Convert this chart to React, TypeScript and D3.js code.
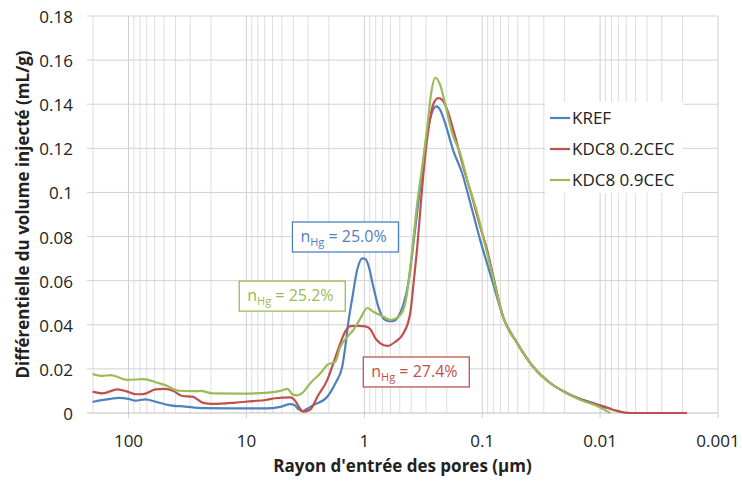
import React from "react";
import * as d3 from "d3";

// Pore entry radius (µm) and differential intruded volume (mL/g)
const krefR = [202, 173, 142, 122, 100, 87, 72, 59, 45.8, 32.9, 23.6, 13.7, 6.9, 5.15, 4.24, 3.92, 3.63, 3.35, 3.1, 2.7, 2.06, 1.76, 1.54, 1.45, 1.37, 1.26, 1.15, 1.04, 0.98, 0.925, 0.839, 0.761, 0.69, 0.626, 0.568, 0.515, 0.467, 0.424, 0.408, 0.377, 0.349, 0.322, 0.292, 0.265, 0.245, 0.227, 0.206, 0.176, 0.148, 0.126, 0.104, 0.0822, 0.0664, 0.0505, 0.037, 0.0265, 0.019, 0.0148, 0.011, 0.0087, 0.0082];
const krefV = [0.005, 0.0057, 0.0064, 0.0069, 0.0064, 0.0056, 0.0062, 0.0051, 0.0036, 0.0029, 0.0022, 0.0021, 0.0021, 0.0028, 0.004, 0.0036, 0.0018, 0.0008, 0.0017, 0.0036, 0.0074, 0.0135, 0.021, 0.03, 0.0407, 0.0527, 0.0648, 0.0701, 0.0698, 0.0671, 0.0573, 0.0482, 0.0429, 0.0417, 0.0417, 0.0437, 0.049, 0.0588, 0.0648, 0.08, 0.095, 0.11, 0.127, 0.1366, 0.139, 0.1374, 0.1313, 0.119, 0.1087, 0.0951, 0.0784, 0.06, 0.0435, 0.0317, 0.021, 0.0136, 0.009, 0.0064, 0.0042, 0.0023, 0.002];

const kdc02R = [202, 166, 124, 102, 87, 74.6, 59, 49, 41.6, 34.9, 28.7, 23.6, 19.4, 12.4, 8.9, 6.9, 5.68, 4.24, 3.85, 3.56, 3.29, 2.87, 2.5, 2.06, 1.83, 1.6, 1.45, 1.31, 1.124, 0.98, 0.889, 0.807, 0.732, 0.638, 0.546, 0.467, 0.408, 0.377, 0.356, 0.335, 0.316, 0.287, 0.26, 0.236, 0.218, 0.198, 0.173, 0.145, 0.122, 0.104, 0.0908, 0.0822, 0.0664, 0.0505, 0.037, 0.0265, 0.019, 0.0148, 0.011, 0.00908, 0.00746, 0.00614, 0.00557, 0.00183];
const kdc02V = [0.0097, 0.0089, 0.0107, 0.0097, 0.0085, 0.0086, 0.0107, 0.0109, 0.01, 0.0077, 0.0074, 0.0047, 0.0041, 0.0047, 0.0054, 0.0059, 0.0067, 0.0071, 0.0055, 0.0025, 0.0006, 0.0016, 0.0074, 0.015, 0.0225, 0.0316, 0.037, 0.0394, 0.0395, 0.0393, 0.038, 0.034, 0.0316, 0.0304, 0.0323, 0.036, 0.0452, 0.062, 0.075, 0.092, 0.108, 0.128, 0.14, 0.1428, 0.142, 0.1374, 0.127, 0.1117, 0.098, 0.0845, 0.0739, 0.064, 0.0435, 0.0317, 0.021, 0.0136, 0.0088, 0.0062, 0.004, 0.0028, 0.0012, 0.0002, 0, 0];

const kdc09R = [202, 166, 142, 102, 74.6, 56.8, 49, 37.7, 27, 24.5, 19.4, 11.2, 6.9, 5.15, 4.5, 4.0, 3.7, 3.29, 2.87, 2.36, 2.06, 1.76, 1.6, 1.39, 1.24, 1.08, 0.944, 0.839, 0.69, 0.602, 0.495, 0.441, 0.416, 0.385, 0.356, 0.322, 0.292, 0.271, 0.25, 0.227, 0.206, 0.18, 0.1536, 0.1315, 0.11, 0.0908, 0.0822, 0.0664, 0.0505, 0.037, 0.0265, 0.019, 0.0148, 0.011, 0.00944, 0.0082];
const kdc09V = [0.0177, 0.0168, 0.0172, 0.015, 0.0154, 0.0137, 0.0127, 0.0101, 0.0099, 0.01, 0.0089, 0.0088, 0.0091, 0.01, 0.0109, 0.0082, 0.008, 0.0095, 0.0135, 0.018, 0.0218, 0.0233, 0.03, 0.0346, 0.0376, 0.0429, 0.0476, 0.0459, 0.0437, 0.0422, 0.0444, 0.052, 0.062, 0.078, 0.095, 0.112, 0.13, 0.145, 0.152, 0.1487, 0.14, 0.127, 0.1177, 0.1041, 0.0905, 0.0724, 0.063, 0.0435, 0.0317, 0.021, 0.0136, 0.0088, 0.006, 0.0035, 0.0018, 0];

const seriesNames = ["KREF", "KDC8 0.2CEC", "KDC8 0.9CEC"];
const seriesColors = ["#4f81bd", "#c0504d", "#9bbb59"];
const seriesR = [krefR, kdc02R, kdc09R];
const seriesV = [krefV, kdc02V, kdc09V];

const yTicks = [0, 0.02, 0.04, 0.06, 0.08, 0.1, 0.12, 0.14, 0.16, 0.18];
const yTickLabels = ["0", "0.02", "0.04", "0.06", "0.08", "0.1", "0.12", "0.14", "0.16", "0.18"];
const xMajor = [100, 10, 1, 0.1, 0.01, 0.001];
const xMajorLabels = ["100", "10", "1", "0.1", "0.01", "0.001"];

const annotations = [
  { label: "25.0%", color: "#4f81bd", r: 4.07, v: 0.0866 },
  { label: "25.2%", color: "#9bbb59", r: 11.5, v: 0.0598 },
  { label: "27.4%", color: "#c0504d", r: 1.02, v: 0.0254 },
];

const FONT = "'Open Sans', 'Liberation Sans', sans-serif";

export default function App() {
  const x = d3.scaleLog().domain([225, 0.001]).range([87, 718]);
  const y = d3.scaleLinear().domain([0, 0.18]).range([413, 16]);
  const [x0, x1] = x.range();

  const minor: number[] = [];
  [100, 10, 1, 0.1, 0.01, 0.001].forEach((d) => {
    for (let k = 2; k <= 9; k++) {
      const val = d * k;
      if (val <= 225 && val > 0.001 && !xMajor.includes(val)) minor.push(val);
    }
  });

  const line = d3
    .line<[number, number]>()
    .x((d) => x(d[0]))
    .y((d) => y(d[1]))
    .curve(d3.curveMonotoneX);

  return (
    <svg
      width={742}
      height={483}
      style={{ position: "absolute", left: 0, top: 0, background: "#fff" }}
      fontFamily={FONT}
    >
      <rect width={742} height={483} fill="#fff" />
      {minor.map((m, i) => (
        <line key={"mn" + i} x1={x(m)} x2={x(m)} y1={y(0.18)} y2={y(0)} stroke="#dedede" strokeWidth={1} />
      ))}
      {xMajor.map((m, i) => (
        <line key={"mj" + i} x1={x(m)} x2={x(m)} y1={y(0.18)} y2={y(0) + 5} stroke="#cfcfcf" strokeWidth={1} />
      ))}
      {yTicks.map((t, i) => (
        <line key={"h" + i} x1={x0} x2={x1} y1={y(t)} y2={y(t)} stroke={t === 0 ? "#bfbfbf" : "#d3d3d3"} strokeWidth={1} />
      ))}
      {yTicks.map((t, i) => (
        <text key={"yl" + i} x={73} y={y(t) + 7} textAnchor="end" fontSize={17} fill="#222">
          {yTickLabels[i]}
        </text>
      ))}
      {xMajor.map((m, i) => (
        <text key={"xl" + i} x={x(m)} y={447} textAnchor="middle" fontSize={17} fill="#222">
          {xMajorLabels[i]}
        </text>
      ))}
      {seriesNames.map((name, si) => {
        const pts: [number, number][] = seriesR[si].map((r, j) => [r, seriesV[si][j]]);
        return (
          <path key={name} d={line(pts) || ""} fill="none" stroke={seriesColors[si]} strokeWidth={2.2} strokeLinejoin="round" />
        );
      })}
      {annotations.map((a, i) => {
        const bx = x(a.r);
        const by = y(a.v);
        return (
          <g key={"an" + i}>
            <rect x={bx} y={by} width={106} height={30} fill="#fff" stroke={a.color} strokeWidth={1.3} />
            <text x={bx + 8} y={by + 20} fontSize={16} fill={a.color}>
              <tspan>n</tspan>
              <tspan dy={4} fontSize={11}>Hg</tspan>
              <tspan dy={-4}> = {a.label}</tspan>
            </text>
          </g>
        );
      })}
      <rect x={545} y={102} width={138} height={91} fill="#fff" />
      {seriesNames.map((name, si) => (
        <g key={"lg" + si}>
          <line x1={550} x2={570} y1={118 + si * 31} y2={118 + si * 31} stroke={seriesColors[si]} strokeWidth={2.2} />
          <text x={572} y={118 + si * 31 + 6} fontSize={17} fill="#222">
            {name}
          </text>
        </g>
      ))}
      <text x={(x0 + x1) / 2} y={472} textAnchor="middle" fontSize={17} fontWeight="bold" fill="#222">
        Rayon d'entrée des pores (µm)
      </text>
      <text
        transform={`translate(29, ${(y(0) + y(0.18)) / 2}) rotate(-90)`}
        textAnchor="middle"
        fontSize={17}
        fontWeight="bold"
        fill="#222"
      >
        Différentielle du volume injecté (mL/g)
      </text>
    </svg>
  );
}
